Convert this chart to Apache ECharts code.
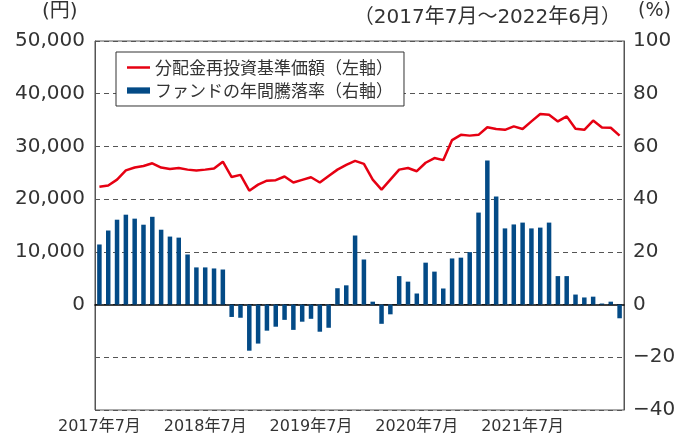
<!DOCTYPE html>
<html>
<head>
<meta charset="utf-8">
<script src="https://cdn.jsdelivr.net/npm/echarts@6/dist/echarts.min.js"></script>
<style>
html,body{margin:0;padding:0;background:#fff;}
#EchartBox{width:691px;height:442px;}
</style>
</head>
<body>
<div id="EchartBox"></div>
<script>
// 2017年7月～2022年6月 の月次
var startYear = 2017, startMonth = 7;
var months = [];
for (var i = 0; i < 60; i++) {
	var m = startMonth - 1 + i;
	months.push((startYear + Math.floor(m / 12)) + '年' + (m % 12 + 1) + '月');
}

// 分配金再投資基準価額（円）
var navValues = [22370, 22600, 23700, 25450, 26000, 26300, 26800, 26000, 25700, 25900,
	25600, 25450, 25600, 25800, 27100, 24200, 24600, 21600, 22750, 23500,
	23600, 24300, 23150, 23650, 24150, 23150, 24400, 25600, 26500, 27250,
	26700, 23700, 21800, 23700, 25600, 25900, 25300, 26900, 27800, 27400,
	31200, 32200, 32050, 32200, 33650, 33300, 33150, 33800, 33300, 34750,
	36150, 36000, 34750, 35700, 33350, 33150, 34900, 33600, 33550, 32050];

// ファンドの年間騰落率（%）
var yearlyReturn = [22.8, 28.1, 32.2, 34.1, 32.6, 30.3, 33.3, 28.4, 25.8, 25.4,
	19.0, 14.1, 14.1, 13.7, 13.3, -4.7, -5.0, -17.5, -14.8, -9.9,
	-8.4, -5.8, -9.6, -6.5, -5.4, -10.3, -8.8, 6.2, 7.3, 26.2,
	17.1, 1.1, -7.3, -3.7, 10.8, 8.7, 4.2, 15.9, 12.5, 6.1,
	17.5, 17.8, 19.9, 34.9, 54.7, 41.0, 28.9, 30.4, 31.1, 28.9,
	29.2, 31.1, 10.8, 10.8, 3.8, 2.7, 3.0, 0.4, 1.1, -5.2];

var lineName = '分配金再投資基準価額（左軸）';
var barName = 'ファンドの年間騰落率（右軸）';

var cjkFont = '"Noto Sans CJK JP", sans-serif';
var numFont = '"DejaVu Sans", "Noto Sans CJK JP", sans-serif';
var textColor = '#333';

var myChart = echarts.init(document.getElementById('EchartBox'));

var option = {
	backgroundColor: '#fff',
	animation: false,
	title: [
		{text: '(円)', left: 42, top: 2, padding: 0,
			textStyle: {fontFamily: numFont, fontSize: 20, fontWeight: 'normal', color: textColor}},
		{text: '（2017年7月～2022年6月）', right: 70, top: 8, padding: 0,
			textStyle: {fontFamily: numFont, fontSize: 20, fontWeight: 'normal', color: textColor}},
		{text: '(%)', left: 638, top: 2, padding: 0,
			textStyle: {fontFamily: numFont, fontSize: 19, fontWeight: 'normal', color: textColor}}
	],
	legend: {
		orient: 'vertical',
		left: 116,
		top: 52,
		padding: [7, 11, 7, 11],
		itemGap: 6,
		itemWidth: 23,
		itemHeight: 14,
		borderColor: '#333',
		borderWidth: 1,
		backgroundColor: '#fff',
		textStyle: {fontFamily: cjkFont, fontSize: 17, color: textColor},
		data: [
			{name: lineName, icon: 'path://M0,0L23,0L23,2.5L0,2.5Z'},
			{name: barName, icon: 'path://M0,0L22,0L22,6L0,6Z'}
		]
	},
	grid: {
		left: 95, right: 67, top: 41, bottom: 32,
		outerBoundsMode: 'none',
		containLabel: false,
		show: true,
		borderColor: '#555',
		borderWidth: 1
	},
	xAxis: {
		type: 'category',
		data: months,
		boundaryGap: true,
		axisLine: {onZero: true, lineStyle: {color: '#000', width: 1.5}},
		axisTick: {show: false},
		axisLabel: {
			interval: function (idx) { return idx % 12 === 0; },
			margin: 9,
			fontFamily: numFont,
			fontSize: 16,
			color: textColor
		}
	},
	yAxis: [
		{
			type: 'value',
			min: -20000, max: 50000, interval: 10000,
			axisLine: {show: true, lineStyle: {color: '#555'}},
			axisTick: {show: false},
			splitLine: {show: false},
			axisLabel: {
				margin: 10,
				fontFamily: numFont,
				fontSize: 20,
				color: textColor,
				formatter: function (v) {
					if (v < 0) return '';
					return v.toLocaleString('en-US');
				}
			}
		},
		{
			type: 'value',
			min: -40, max: 100, interval: 20,
			axisLine: {show: true, lineStyle: {color: '#555'}},
			axisTick: {show: false},
			splitLine: {show: true, lineStyle: {color: '#555', type: [5, 4], width: 1}},
			axisLabel: {
				margin: 9,
				fontFamily: numFont,
				fontSize: 20,
				color: textColor,
				formatter: function (v) {
					return String(v).replace('-', '−');
				}
			}
		}
	],
	series: [
		{
			name: barName,
			type: 'bar',
			yAxisIndex: 1,
			barWidth: 4.5,
			itemStyle: {color: '#034a86'},
			data: yearlyReturn
		},
		{
			name: lineName,
			type: 'line',
			yAxisIndex: 0,
			showSymbol: false,
			symbol: 'none',
			z: 5,
			lineStyle: {color: '#e60012', width: 2.5},
			itemStyle: {color: '#e60012'},
			data: navValues
		}
	]
};

myChart.setOption(option);
</script>
</body>
</html>
